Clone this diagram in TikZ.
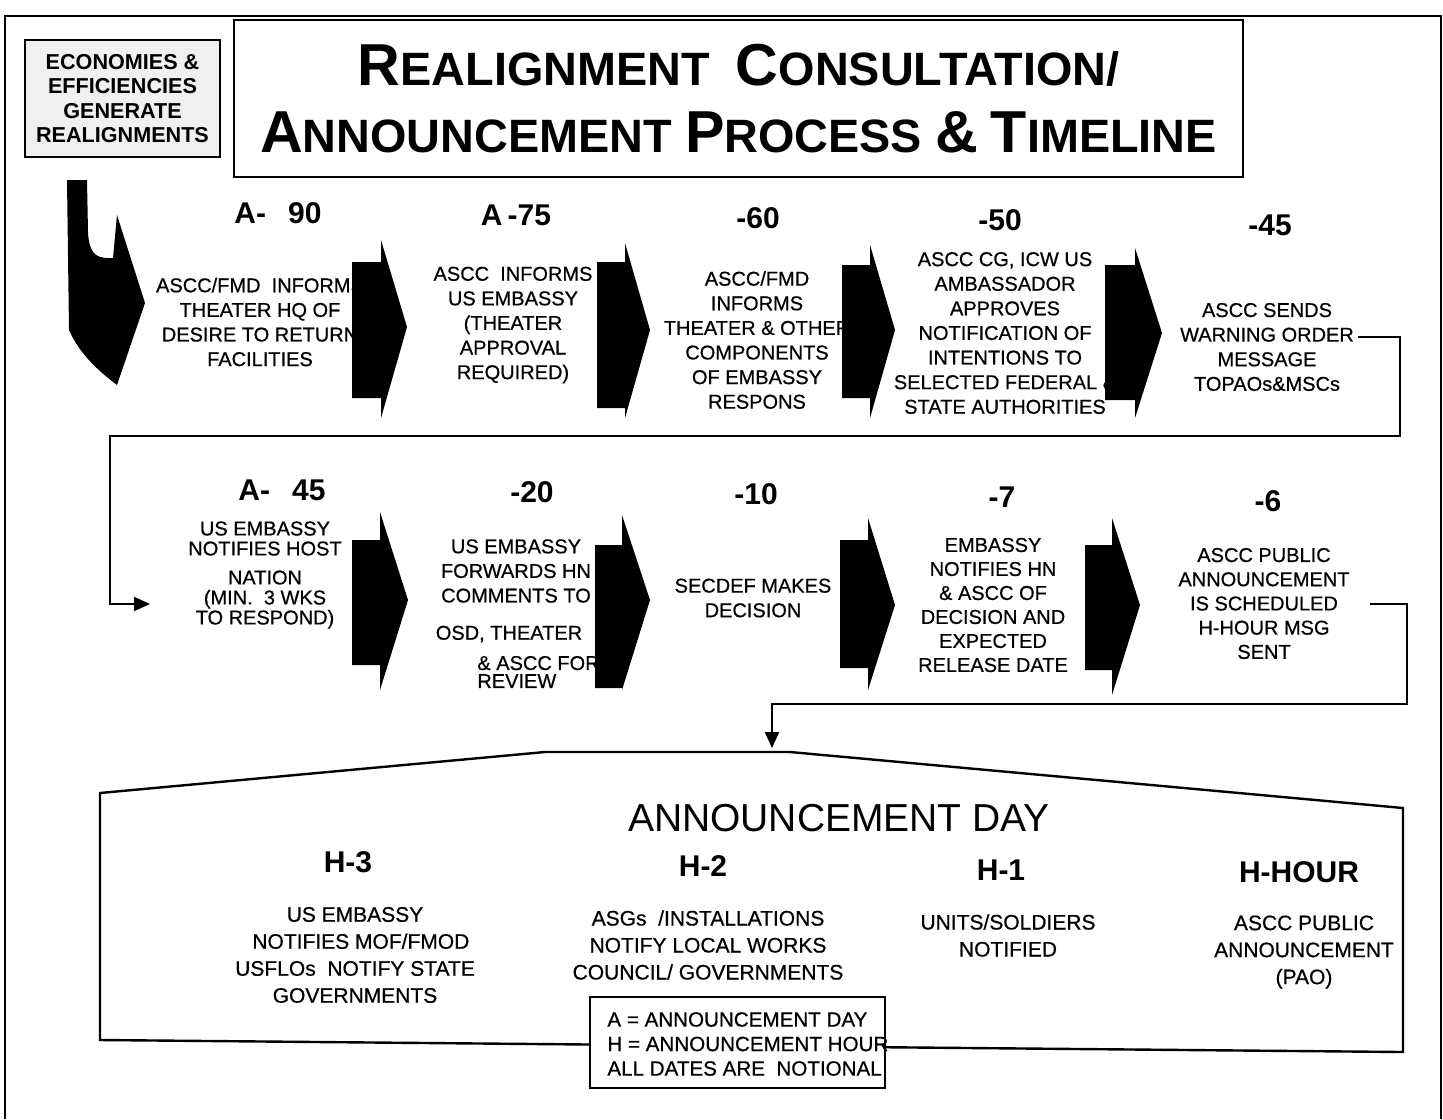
\documentclass[tikz,border=0pt]{standalone}
\usepackage{fontspec}
\setmainfont{Liberation Sans}
\newfontfamily\heavyfont{Liberation Sans}[FakeBold=0.6]
\usetikzlibrary{arrows.meta}
\newcommand{\tcap}[1]{{\fontsize{29.6}{34}\selectfont #1}}

\begin{document}
\begin{tikzpicture}[x=0.5pt,y=-0.5pt,
    stagetext/.style={align=center,inner sep=2pt,font=\heavyfont\fontsize{10}{12.3}\selectfont},
    daytext/.style={align=center,inner sep=2pt,font=\heavyfont\fontsize{10.5}{13.5}\selectfont},
    daymark/.style={font=\bfseries\fontsize{15}{18}\selectfont},
    linkarrow/.style={line width=1pt,-{Triangle[length=8pt,width=7pt]}}]
\useasboundingbox (0,0) rectangle (1443,1119);
% frame
\draw [line width=1pt] (5,1119) -- (5,16) -- (1441,16) -- (1441,1119);

% header
\node (econ) [draw, line width=1.2pt, fill=gray!12, minimum width=97.5pt, minimum height=58.5pt, inner sep=0pt, align=center, font=\bfseries\fontsize{10.8}{12.3}\selectfont] at (122.5,98.5) {ECONOMIES \&\\EFFICIENCIES\\GENERATE\\REALIGNMENTS};
\node (title) [draw, line width=1.2pt, minimum width=504.5pt, minimum height=78.5pt, align=center, font=\bfseries\fontsize{23.4}{33.5}\selectfont] at (738.5,98.5) {\tcap{R}EALIGNMENT\ \ \tcap{C}ONSULTATION/\\\tcap{A}NNOUNCEMENT \tcap{P}ROCESS \tcap{\&} \tcap{T}IMELINE};

% bent start arrow
\fill (67,180) -- (87,180) -- (88,232) .. controls (89,252) and (95,258) .. (108,258) -- (113,258) -- (117,215) -- (145,303) -- (117,385) .. controls (100,372) and (80,355) .. (69,330) -- cycle;

% chevrons, first row
\fill (352,262) -- (381,262) -- (381,240) -- (407,327) -- (381,418) -- (381,398) -- (352,398) -- cycle;
\fill (597,262) -- (625,262) -- (625,243) -- (650,330) -- (625,418) -- (625,408) -- (597,408) -- cycle;
\fill (842,265) -- (870,265) -- (870,245) -- (895,330) -- (870,418) -- (870,398) -- (842,398) -- cycle;
\fill (1105,265) -- (1135,265) -- (1135,248) -- (1162,333) -- (1135,418) -- (1135,400) -- (1105,400) -- cycle;
% chevrons, second row
\fill (352,540) -- (380,540) -- (380,512) -- (408,600) -- (380,690) -- (380,665) -- (352,665) -- cycle;
\fill (595,545) -- (622,545) -- (622,515) -- (650,600) -- (622,690) -- (622,688) -- (595,688) -- cycle;
\fill (840,540) -- (868,540) -- (868,518) -- (895,605) -- (868,690) -- (868,668) -- (840,668) -- cycle;
\fill (1085,545) -- (1112,545) -- (1112,518) -- (1140,605) -- (1112,695) -- (1112,670) -- (1085,670) -- cycle;

% first row
\node (d90) [daymark] at (278,213) {A-\hspace{11pt}90};
\node (d75) [daymark] at (516,215) {A\,-75};
\node (d60) [daymark] at (758,218) {-60};
\node (d50) [daymark] at (1000,220) {-50};
\node (d45) [daymark] at (1270,225) {-45};
\node (t1) [stagetext] at (260,322) {ASCC/FMD\ \ INFORMS\\THEATER HQ OF\\DESIRE TO RETURN\\FACILITIES};
\node (t2) [stagetext] at (513,325) {ASCC\ \ INFORMS\\US EMBASSY\\(THEATER\\APPROVAL\\REQUIRED)};
\node (t3) [stagetext] at (757,340) {ASCC/FMD\\INFORMS\\THEATER \& OTHER\\COMPONENTS\\OF EMBASSY\\RESPONS};
\node (t4) [stagetext] at (1005,333) {ASCC CG, ICW US\\AMBASSADOR\\APPROVES\\NOTIFICATION OF\\INTENTIONS TO\\SELECTED FEDERAL \&\\STATE AUTHORITIES};
\node (t5) [stagetext] at (1267,347) {ASCC SENDS\\WARNING ORDER\\MESSAGE\\TOPAOs\&MSCs};

% second row
\node (d45b) [daymark] at (282,490) {A-\hspace{11pt}45};
\node (d20) [daymark] at (532,492) {-20};
\node (d10) [daymark] at (756,494) {-10};
\node (d7) [daymark] at (1002,497) {-7};
\node (d6) [daymark] at (1268,501) {-6};
\node (t6) [stagetext, font=\heavyfont\fontsize{10}{10}\selectfont] at (265,575) {US EMBASSY\\NOTIFIES HOST\\[4.5pt]NATION\\(MIN.\ \ 3 WKS\\TO RESPOND)};
\node (t7) [stagetext] at (516,571) {US EMBASSY\\FORWARDS HN\\COMMENTS TO};
\node (t7b) [stagetext] at (509,634) {OSD, THEATER};
\node (t7c) [stagetext, align=left, anchor=west, font=\heavyfont\fontsize{10}{9}\selectfont] at (473,672) {\& ASCC FOR\\REVIEW};
\node (t8) [stagetext] at (753,598) {SECDEF MAKES\\DECISION};
\node (t9) [stagetext, font=\heavyfont\fontsize{10}{12}\selectfont] at (993,605) {EMBASSY\\NOTIFIES HN\\\& ASCC OF\\DECISION AND\\EXPECTED\\RELEASE DATE};
\node (t10) [stagetext, font=\heavyfont\fontsize{10}{12.1}\selectfont] at (1264,603.5) {ASCC PUBLIC\\ANNOUNCEMENT\\IS SCHEDULED\\H-HOUR MSG\\SENT};

% announcement day
\draw [line width=1.2pt] (100,1040) -- (100,793) -- (545,752) -- (790,752) -- (1403,808) -- (1403,1052) -- cycle;
\node (aday) [font=\fontsize{19.5}{22}\selectfont] at (839,818) {ANNOUNCEMENT DAY};
\node (h3) [daymark] at (348,862) {H-3};
\node (h2) [daymark] at (703,866) {H-2};
\node (h1) [daymark] at (1001,870) {H-1};
\node (h0) [daymark] at (1299,872) {H-HOUR};
\node (b3) [daytext] at (355,955) {US EMBASSY\\\ \ NOTIFIES MOF/FMOD\\USFLOs\ \ NOTIFY STATE\\GOVERNMENTS};
\node (b2) [daytext] at (708,945) {ASGs\ \ /INSTALLATIONS\\NOTIFY LOCAL WORKS\\COUNCIL/ GOVERNMENTS};
\node (b1) [daytext] at (1008,935.5) {UNITS/SOLDIERS\\NOTIFIED};
\node (b0) [daytext] at (1304,952) {ASCC PUBLIC\\ANNOUNCEMENT\\(PAO)};

% legend
\node (legend) [draw, line width=1.2pt, fill=white, minimum width=147.5pt, minimum height=45.5pt] at (737.5,1042.5) {};
\node (legendtext) [align=left, anchor=west, inner sep=0pt, font=\heavyfont\fontsize{10.3}{12.25}\selectfont] at (607,1044) {A = ANNOUNCEMENT DAY\\H = ANNOUNCEMENT HOUR\\ALL DATES ARE\ \ NOTIONAL};

% connectors
\coordinate (in6) at (150,604);
\coordinate (dayin) at (772,748);
\draw [linkarrow] ([yshift=5pt]t5.east) -| (1400,436) -| (110,604) -- (in6);
\draw [linkarrow] ([xshift=8pt]t10.east) -| (1407,704) -| (dayin);
\end{tikzpicture}
\end{document}
